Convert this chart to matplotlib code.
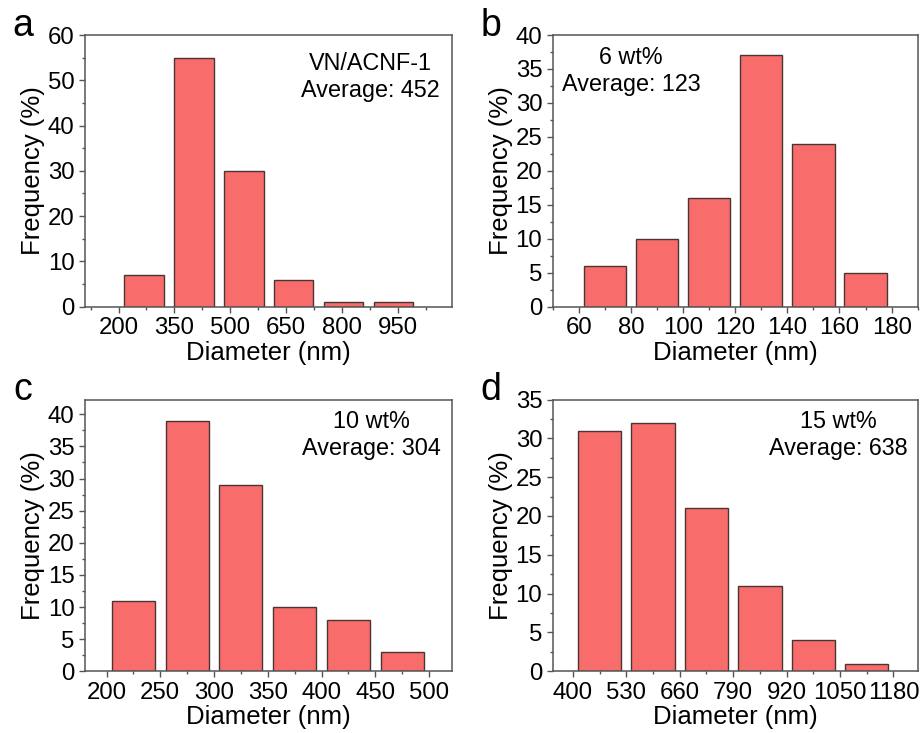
import matplotlib
matplotlib.use("Agg")
import matplotlib.pyplot as plt
from matplotlib.ticker import MultipleLocator, FixedLocator

plt.rcParams["font.family"] = ["Liberation Sans", "DejaVu Sans"]

# Panel a: VN/ACNF-1
a_centers = [268, 402, 536, 670, 804, 938]
a_freq = [7, 55, 30, 6, 1, 1]
a_ticks = [200, 350, 500, 650, 800, 950]

# Panel b: 6 wt%
b_centers = [70, 90, 110, 130, 150, 170]
b_freq = [6, 10, 16, 37, 24, 5]
b_ticks = [60, 80, 100, 120, 140, 160, 180]

# Panel c: 10 wt%
c_centers = [225, 275, 325, 375, 425, 475]
c_freq = [11, 39, 29, 10, 8, 3]
c_ticks = [200, 250, 300, 350, 400, 450, 500]

# Panel d: 15 wt%
d_centers = [465, 595, 725, 855, 985, 1115]
d_freq = [31, 32, 21, 11, 4, 1]
d_ticks = [400, 530, 660, 790, 920, 1050, 1180]

labels_top = ["VN/ACNF-1", "6 wt%", "10 wt%", "15 wt%"]
averages = [452, 123, 304, 638]

W, H = 922, 733
fig = plt.figure(figsize=(W / 100, H / 100), dpi=100)

BAR = "#F96C6C"
EDGE = "#4a3535"
SPINE = "#555555"


def ax_at(x0, y0, x1, y1):
    return fig.add_axes([x0 / W, 1 - y1 / H, (x1 - x0) / W, (y1 - y0) / H])


panels = [
    dict(box=(85, 35, 451.7, 306.7), c=a_centers, f=a_freq, t=a_ticks, w=106,
         xlim=(110, 1094), ylim=(0, 60), ymaj=10, letter="a",
         txt=(370, 63), lab=0),
    dict(box=(552.7, 35, 917.7, 306.7), c=b_centers, f=b_freq, t=b_ticks, w=16.2,
         xlim=(50, 190), ylim=(0, 40), ymaj=5, letter="b",
         txt=(631, 58), lab=1),
    dict(box=(85, 399.5, 451.7, 671.3), c=c_centers, f=c_freq, t=c_ticks, w=40,
         xlim=(180, 521), ylim=(0, 42.3), ymaj=5, letter="c",
         txt=(371, 421), lab=2),
    dict(box=(552.7, 399.5, 917.7, 671.3), c=d_centers, f=d_freq, t=d_ticks, w=105.5,
         xlim=(351, 1239), ylim=(0, 35), ymaj=5, letter="d",
         txt=(838, 422), lab=3),
]

for p in panels:
    x0, y0, x1, y1 = p["box"]
    ax = ax_at(x0, y0, x1, y1)
    ax.bar(p["c"], p["f"], width=p["w"], color=BAR, edgecolor=EDGE,
           linewidth=1.0, zorder=2)
    ax.set_xlim(*p["xlim"])
    ax.set_ylim(*p["ylim"])
    ax.xaxis.set_major_locator(FixedLocator(p["t"]))
    step = p["t"][1] - p["t"][0]
    ax.xaxis.set_minor_locator(FixedLocator(
        [t + step / 2 for t in [p["t"][0] - step] + p["t"]]))
    ax.yaxis.set_major_locator(MultipleLocator(p["ymaj"]))
    ax.yaxis.set_minor_locator(MultipleLocator(p["ymaj"] / 2))
    ax.tick_params(which="both", direction="out", top=False, right=False,
                   color=SPINE, width=1.0)
    ax.tick_params(which="major", length=4.5, labelsize=17.3, pad=3)
    ax.tick_params(which="minor", length=2.5)
    for s in ax.spines.values():
        s.set_color(SPINE)
        s.set_linewidth(1.1)
    ax.set_xlabel("Diameter (nm)", fontsize=18.5, labelpad=1)
    ax.set_ylabel("Frequency (%)", fontsize=18.5, labelpad=2)

    tx, ty = p["txt"]
    i = p["lab"]
    fig.text(tx / W, 1 - ty / H, labels_top[i], fontsize=16.8,
             ha="center", va="center")
    fig.text(tx / W, 1 - (ty + 27) / H, f"Average: {averages[i]}",
             fontsize=16.8, ha="center", va="center")

    fig.text((x0 - 62) / W, 1 - (y0 - 9) / H, p["letter"], fontsize=27,
             ha="center", va="center")

fig.savefig("out.png", dpi=100)
